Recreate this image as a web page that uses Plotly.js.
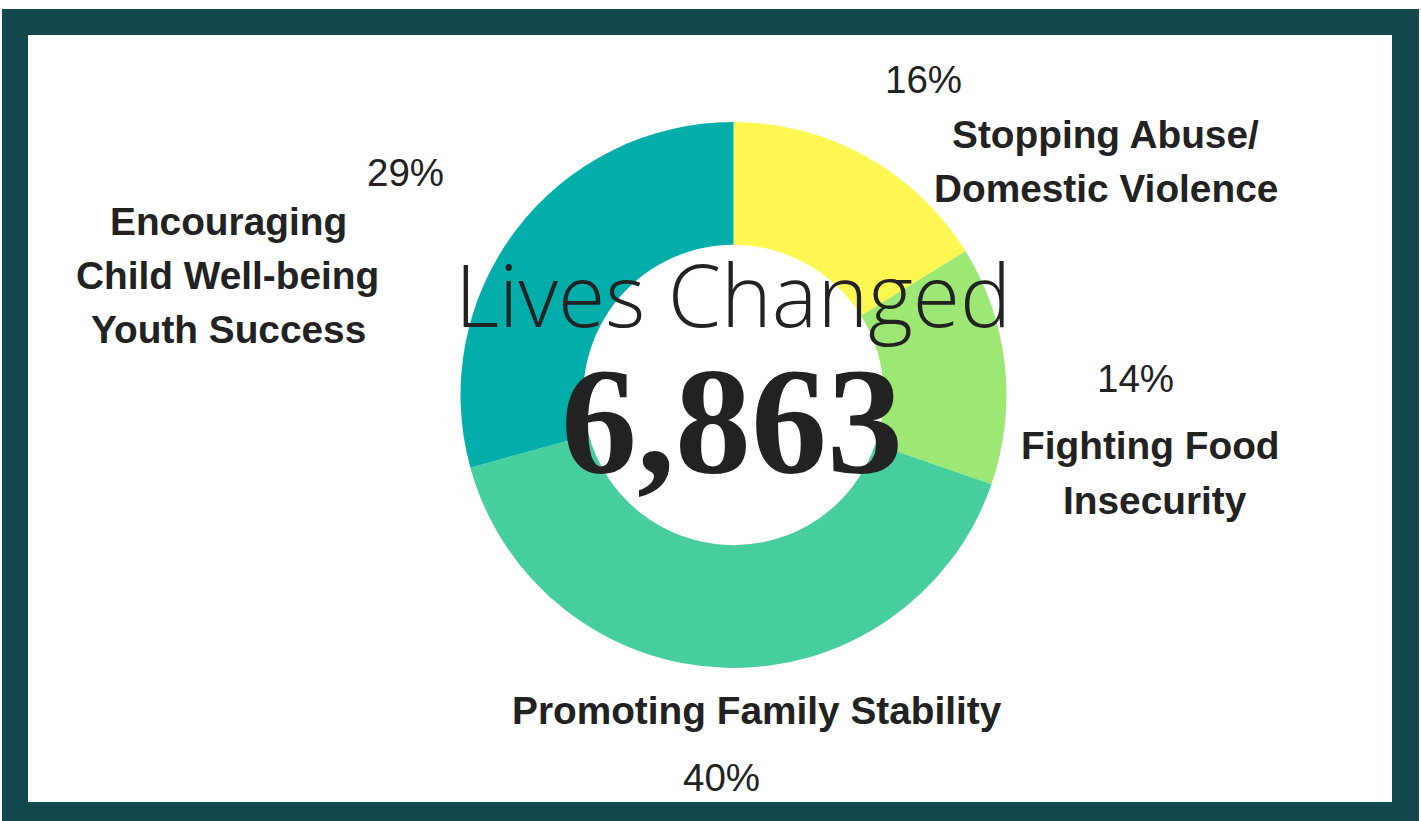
<!DOCTYPE html>
<html>
<head>
<meta charset="utf-8">
<script src="https://cdn.plot.ly/plotly-3.0.1.min.js"></script>
<style>
html,body{margin:0;padding:0;background:#ffffff;}
#chart{width:1421px;height:821px;}
</style>
</head>
<body>
<div id="chart"></div>
<script>
// ---- data ----
const categories = [
  'Stopping Abuse/ Domestic Violence',
  'Fighting Food Insecurity',
  'Promoting Family Stability',
  'Encouraging Child Well-being Youth Success'
];
const values = [16, 14, 40, 29];
const labelLines = [
  ['Stopping Abuse/', 'Domestic Violence'],
  ['Fighting Food', 'Insecurity'],
  ['Promoting Family Stability'],
  ['Encouraging', 'Child Well-being', 'Youth Success']
];
const centerTitle = 'Lives Changed';
const centerTotal = 6863;

// ---- styles ----
const sliceColors = ['#fef752', '#9de874', '#46cf9c', '#03aeaa'];
const textColor = '#222222';
const frameColor = '#14484f';
const W = 1421, H = 821;
const px = x => x / W;
const py = y => 1 - y / H;

// pie geometry (pixels)
const cx = 733.5, cy = 395, R = 273;

const trace = {
  type: 'pie',
  labels: categories,
  values: values,
  sort: false,
  direction: 'clockwise',
  rotation: 0,
  hole: 0.55,
  marker: {colors: sliceColors, line: {width: 0}},
  textinfo: 'none',
  hoverinfo: 'none',
  showlegend: false,
  domain: {x: [px(cx - R), px(cx + R)], y: [py(cy + R), py(cy - R)]}
};

// label positions (pixel centres) per category
const pctPos = [[923, 80], [1135, 379], [721, 777], [405, 172]];
const linePos = [
  [[1105, 135], [1106, 189]],
  [[1150, 445], [1155, 500]],
  [[757, 710]],
  [[228, 221], [227, 275], [228, 329]]
];

const annotations = [];
values.forEach((v, i) => {
  annotations.push({
    text: v + '%', x: px(pctPos[i][0]), y: py(pctPos[i][1]),
    xref: 'paper', yref: 'paper', xanchor: 'center', yanchor: 'middle',
    showarrow: false,
    font: {family: 'Liberation Sans, Arial, sans-serif', size: 38.5, color: textColor}
  });
  labelLines[i].forEach((ln, j) => {
    annotations.push({
      text: ln, x: px(linePos[i][j][0]), y: py(linePos[i][j][1]),
      xref: 'paper', yref: 'paper', xanchor: 'center', yanchor: 'middle',
      showarrow: false,
      font: {family: 'Liberation Sans, Arial, sans-serif', size: 38.8, weight: 'bold', color: textColor}
    });
  });
});
annotations.push({
  text: centerTitle, x: px(733), y: py(293),
  xref: 'paper', yref: 'paper', xanchor: 'center', yanchor: 'middle',
  showarrow: false,
  font: {family: 'Open Sans, sans-serif', size: 86, weight: 300, color: textColor}
});
annotations.push({
  text: centerTotal.toLocaleString('en-US'), x: px(732), y: py(422),
  xref: 'paper', yref: 'paper', xanchor: 'center', yanchor: 'middle',
  showarrow: false,
  font: {family: 'Liberation Serif, serif', size: 152, weight: 'bold', color: textColor}
});

const layout = {
  width: W, height: H,
  margin: {l: 0, r: 0, t: 0, b: 0},
  paper_bgcolor: '#ffffff',
  plot_bgcolor: '#ffffff',
  showlegend: false,
  shapes: [
    {type: 'rect', xref: 'paper', yref: 'paper', layer: 'below',
     x0: px(2), x1: px(1419), y0: py(821), y1: py(9),
     fillcolor: frameColor, line: {width: 0}},
    {type: 'rect', xref: 'paper', yref: 'paper', layer: 'below',
     x0: px(28), x1: px(1392), y0: py(802), y1: py(35),
     fillcolor: '#ffffff', line: {width: 0}}
  ],
  annotations: annotations
};

Plotly.newPlot('chart', [trace], layout, {displayModeBar: false, staticPlot: true});
</script>
</body>
</html>
